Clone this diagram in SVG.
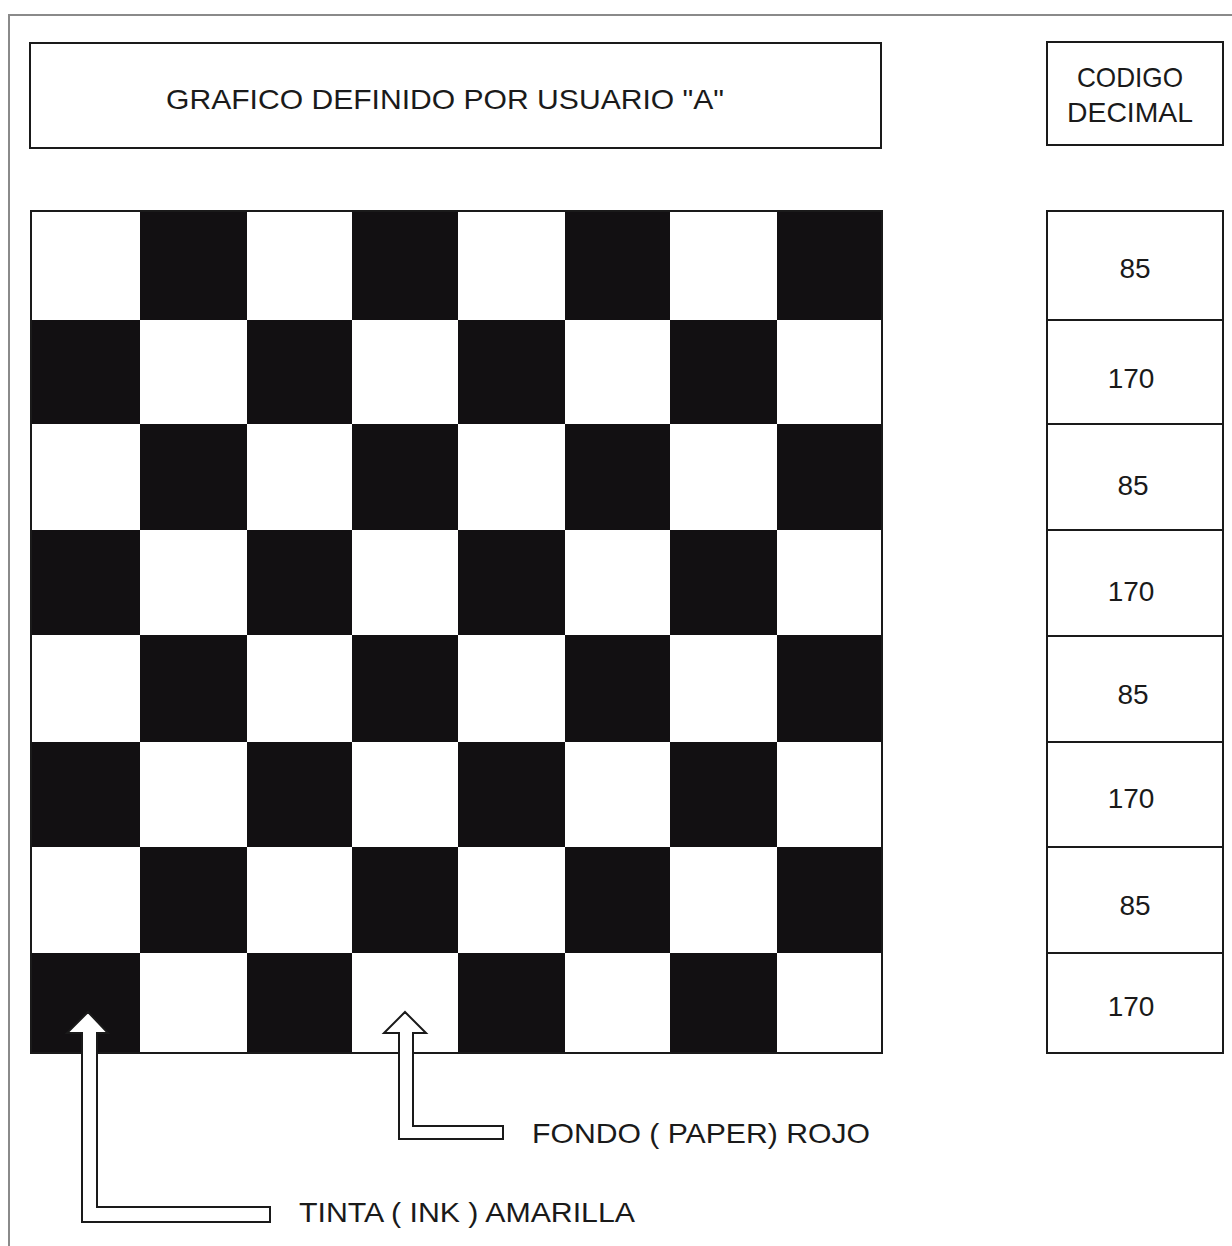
<svg xmlns="http://www.w3.org/2000/svg" width="1232" height="1246" viewBox="0 0 1232 1246">
<style>
.box{fill:#fff;stroke:#1a1a1a;stroke-width:2}
.blk{fill:#121012}
.t{font-family:"Liberation Sans",Arial,sans-serif;font-size:28px;fill:#1a1a1a}
.c{text-anchor:middle}
.arrow{fill:#fff;stroke:#1a1a1a;stroke-width:2;stroke-linejoin:miter}
</style>
<rect width="1232" height="1246" fill="#fff"/>
<path d="M9,1246 V15 H1232" fill="none" stroke="#8a8a8a" stroke-width="2"/>
<g id="title">
<rect class="box" x="30" y="43" width="851" height="105"/>
<text class="t" x="166" y="109" textLength="558" lengthAdjust="spacingAndGlyphs">GRAFICO DEFINIDO POR USUARIO "A"</text>
</g>
<g id="header">
<rect class="box" x="1047" y="42" width="176" height="103"/>
<text class="t c" x="1130" y="87" textLength="106" lengthAdjust="spacingAndGlyphs">CODIGO</text>
<text class="t c" x="1130" y="122" textLength="126" lengthAdjust="spacingAndGlyphs">DECIMAL</text>
</g>
<g id="grid">
<rect x="31" y="211" width="851" height="842" fill="#fff"/>
<rect class="blk" x="140" y="211" width="107" height="109"/>
<rect class="blk" x="352" y="211" width="106" height="109"/>
<rect class="blk" x="565" y="211" width="105" height="109"/>
<rect class="blk" x="777" y="211" width="105" height="109"/>
<rect class="blk" x="31" y="320" width="109" height="104"/>
<rect class="blk" x="247" y="320" width="105" height="104"/>
<rect class="blk" x="458" y="320" width="107" height="104"/>
<rect class="blk" x="670" y="320" width="107" height="104"/>
<rect class="blk" x="140" y="424" width="107" height="106"/>
<rect class="blk" x="352" y="424" width="106" height="106"/>
<rect class="blk" x="565" y="424" width="105" height="106"/>
<rect class="blk" x="777" y="424" width="105" height="106"/>
<rect class="blk" x="31" y="530" width="109" height="105"/>
<rect class="blk" x="247" y="530" width="105" height="105"/>
<rect class="blk" x="458" y="530" width="107" height="105"/>
<rect class="blk" x="670" y="530" width="107" height="105"/>
<rect class="blk" x="140" y="635" width="107" height="107"/>
<rect class="blk" x="352" y="635" width="106" height="107"/>
<rect class="blk" x="565" y="635" width="105" height="107"/>
<rect class="blk" x="777" y="635" width="105" height="107"/>
<rect class="blk" x="31" y="742" width="109" height="105"/>
<rect class="blk" x="247" y="742" width="105" height="105"/>
<rect class="blk" x="458" y="742" width="107" height="105"/>
<rect class="blk" x="670" y="742" width="107" height="105"/>
<rect class="blk" x="140" y="847" width="107" height="106"/>
<rect class="blk" x="352" y="847" width="106" height="106"/>
<rect class="blk" x="565" y="847" width="105" height="106"/>
<rect class="blk" x="777" y="847" width="105" height="106"/>
<rect class="blk" x="31" y="953" width="109" height="100"/>
<rect class="blk" x="247" y="953" width="105" height="100"/>
<rect class="blk" x="458" y="953" width="107" height="100"/>
<rect class="blk" x="670" y="953" width="107" height="100"/>
<rect x="31" y="211" width="851" height="842" fill="none" stroke="#1a1a1a" stroke-width="2"/>
</g>
<g id="codes">
<rect class="box" x="1047" y="211" width="176" height="842"/>
<path d="M1047,320 H1223 M1047,424 H1223 M1047,530 H1223 M1047,636 H1223 M1047,742 H1223 M1047,847 H1223 M1047,953 H1223" stroke="#1a1a1a" stroke-width="2"/>
<text class="t c" x="1135" y="278">85</text>
<text class="t c" x="1131" y="388">170</text>
<text class="t c" x="1133" y="495">85</text>
<text class="t c" x="1131" y="601">170</text>
<text class="t c" x="1133" y="704">85</text>
<text class="t c" x="1131" y="808">170</text>
<text class="t c" x="1135" y="915">85</text>
<text class="t c" x="1131" y="1016">170</text>
</g>
<g id="connectors">
<polygon class="arrow" points="88,1012 108,1033 97,1033 97,1207 270,1207 270,1222 82,1222 82,1033 67,1033"/>
<polygon class="arrow" points="405,1012 426,1033 413,1033 413,1126 503,1126 503,1139 399,1139 399,1033 384,1033"/>
</g>
<g id="label-fondo">
<text class="t" x="532" y="1143" textLength="338" lengthAdjust="spacingAndGlyphs">FONDO ( PAPER) ROJO</text>
</g>
<g id="label-tinta">
<text class="t" x="299" y="1222" textLength="336" lengthAdjust="spacingAndGlyphs">TINTA ( INK ) AMARILLA</text>
</g>
</svg>
